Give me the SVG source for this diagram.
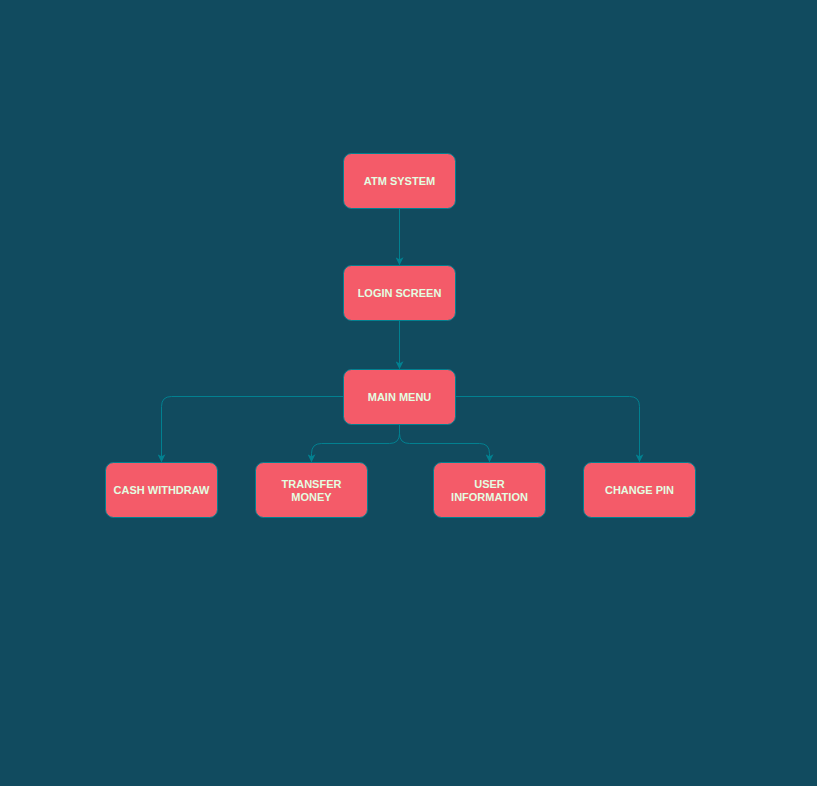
<svg xmlns="http://www.w3.org/2000/svg" width="817" height="786" viewBox="0 0 817 786">
<defs>
<style>
.n rect{fill:#F45B69;stroke:#028090;stroke-width:1}
.n text{fill:#E4FDE1;font-family:"Liberation Sans",Arial,sans-serif;font-size:11px;font-weight:bold;text-anchor:middle;dominant-baseline:central}
.e path{fill:none;stroke:#028090;stroke-width:1;marker-end:url(#a)}
</style>
<marker id="a" viewBox="0 0 10 10" refX="9" refY="5" markerWidth="8" markerHeight="8" markerUnits="userSpaceOnUse" orient="auto">
<path d="M0,0 L10,5 L0,10 L2.5,5 Z" fill="#028090"/>
</marker>
</defs>
<rect width="817" height="786" fill="#114B5F"/>
<g class="e" id="connectors">
<path d="M399.5,208.5 V264.5"/>
<path d="M399.5,320.5 V368.5"/>
<path d="M343.5,396.5 H171.5 Q161.5,396.5 161.5,406.5 V461.5"/>
<path d="M455.5,396.5 H629.5 Q639.5,396.5 639.5,406.5 V461.5"/>
<path d="M399.5,424.5 V433.5 Q399.5,443.5 389.5,443.5 H321.5 Q311.5,443.5 311.5,453.5 V461.5"/>
<path d="M399.5,424.5 V433.5 Q399.5,443.5 409.5,443.5 H479.5 Q489.5,443.5 489.5,453.5 V461.5"/>
</g>
<g class="n" id="atm-system"><rect x="343.5" y="153.5" width="112" height="55" rx="8"/><text x="399.5" y="181">ATM SYSTEM</text></g>
<g class="n" id="login-screen"><rect x="343.5" y="265.5" width="112" height="55" rx="8"/><text x="399.5" y="293">LOGIN SCREEN</text></g>
<g class="n" id="main-menu"><rect x="343.5" y="369.5" width="112" height="55" rx="8"/><text x="399.5" y="397">MAIN MENU</text></g>
<g class="n" id="cash-withdraw"><rect x="105.5" y="462.5" width="112" height="55" rx="8"/><text x="161.5" y="490">CASH WITHDRAW</text></g>
<g class="n" id="transfer-money"><rect x="255.5" y="462.5" width="112" height="55" rx="8"/><text x="311.5" y="484">TRANSFER</text><text x="311.5" y="497">MONEY</text></g>
<g class="n" id="user-information"><rect x="433.5" y="462.5" width="112" height="55" rx="8"/><text x="489.5" y="484">USER</text><text x="489.5" y="497">INFORMATION</text></g>
<g class="n" id="change-pin"><rect x="583.5" y="462.5" width="112" height="55" rx="8"/><text x="639.5" y="490">CHANGE PIN</text></g>
</svg>
